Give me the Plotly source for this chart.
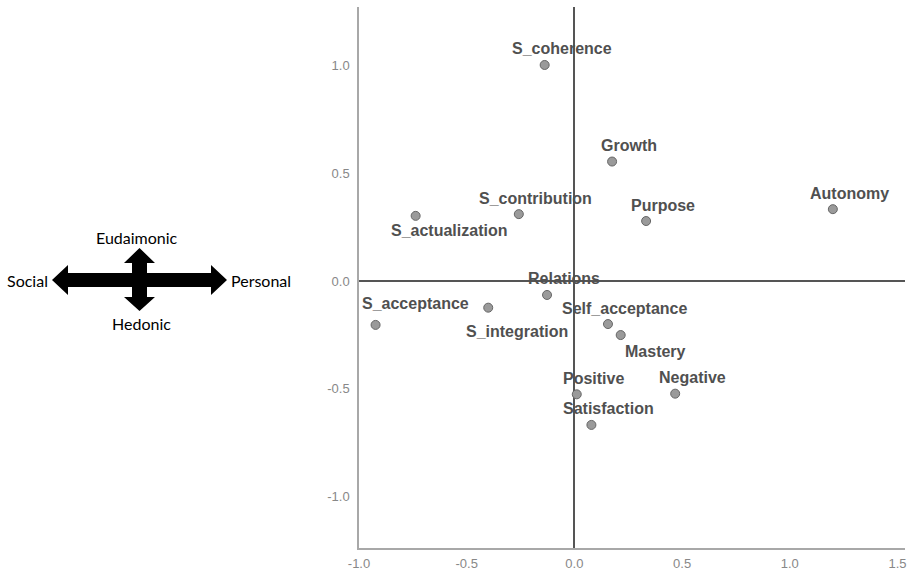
import plotly.graph_objects as go

# ---- data ----
names = ["S_coherence", "Growth", "Autonomy", "Purpose", "S_contribution", "S_actualization",
         "Relations", "S_integration", "S_acceptance", "Self_acceptance", "Mastery",
         "Positive", "Negative", "Satisfaction"]
dim1 = [-0.138, 0.175, 1.200, 0.333, -0.258, -0.737,
        -0.127, -0.400, -0.923, 0.156, 0.215,
        0.011, 0.468, 0.079]
dim2 = [1.002, 0.554, 0.333, 0.278, 0.310, 0.302,
        -0.065, -0.124, -0.204, -0.200, -0.251,
        -0.526, -0.523, -0.668]

x_tickvals = [-1.0, -0.5, 0.0, 0.5, 1.0, 1.5]
x_ticktext = ["-1.0", "-0.5", "0.0", "0.5", "1.0", "1.5"]
y_tickvals = [-1.0, -0.5, 0.0, 0.5, 1.0]
y_ticktext = ["-1.0", "-0.5", "0.0", "0.5", "1.0"]

legend_texts = {"up": "Eudaimonic", "down": "Hedonic", "left": "Social", "right": "Personal"}

# ---- label offsets (pixels, style) ----
default_off = (17, 16)
special_off = {"S_actualization": (33, -15), "S_acceptance": (40, 21),
               "S_integration": (29, -24), "Mastery": (35, -16)}

W, H = 914, 574
ML, MR, MT, MB = 359, 9, 7, 26
PW, PH = W - ML - MR, H - MT - MB


def px(xp, yp):
    return (xp - ML) / PW, (H - MB - yp) / PH


fig = go.Figure()
fig.add_trace(go.Scatter(
    x=dim1, y=dim2, mode="markers",
    marker=dict(size=9, color="#9a9a9a", line=dict(color="#666666", width=1)),
    hoverinfo="text", text=names, showlegend=False, cliponaxis=False,
))

annotations = []
for n, xv, yv in zip(names, dim1, dim2):
    dx, dy = special_off.get(n, default_off)
    annotations.append(dict(
        x=xv, y=yv, xref="x", yref="y", text=n, showarrow=False,
        xshift=dx, yshift=dy, xanchor="center", yanchor="middle",
        font=dict(family="Liberation Sans, Arial, sans-serif", size=16, color="#505050",
                  weight="bold"),
    ))

# cross-arrow legend graphic (pixel polygon -> paper coords)
poly_px = [(52, 280), (68, 265), (68, 273), (132, 273), (132, 263), (124, 263), (139.5, 248),
           (155, 263), (147, 263), (147, 273), (211, 273), (211, 265), (227, 280), (211, 295),
           (211, 287), (147, 287), (147, 297), (155, 297), (139.5, 311), (124, 297), (132, 297),
           (132, 287), (68, 287), (68, 295)]
pts = [px(a, b) for a, b in poly_px]
path = "M " + " L ".join(f"{a:.5f},{b:.5f}" for a, b in pts) + " Z"
shapes = [dict(type="path", xref="paper", yref="paper", path=path,
               fillcolor="black", line=dict(color="black", width=0))]

legend_pos = {"up": (137, 238), "down": (141, 323), "left": (27, 280), "right": (261, 280)}
for k, t in legend_texts.items():
    xp, yp = px(*legend_pos[k])
    annotations.append(dict(
        x=xp, y=yp, xref="paper", yref="paper", text=t, showarrow=False,
        xanchor="center", yanchor="middle",
        font=dict(family="Lato, Noto Sans, sans-serif", size=16, color="black", weight="normal"),
    ))

axis_common = dict(
    showgrid=False, zeroline=True, zerolinecolor="#555555", zerolinewidth=1.5,
    showline=True, linecolor="#a8a8a8", linewidth=1.5, ticks="",
    tickfont=dict(family="Liberation Sans, Arial, sans-serif", size=13, color="#888888"),
)

fig.update_layout(
    width=W, height=H, margin=dict(l=ML, r=MR, t=MT, b=MB, autoexpand=False),
    paper_bgcolor="white", plot_bgcolor="white",
    xaxis=dict(range=[-1.0, 1.535], tickvals=x_tickvals, ticktext=x_ticktext,
               ticklabelstandoff=3, **axis_common),
    yaxis=dict(range=[-1.239, 1.271], tickvals=y_tickvals, ticktext=y_ticktext,
               ticklabelstandoff=5, **axis_common),
    annotations=annotations, shapes=shapes,
)

fig.write_html("out.html", config={"displayModeBar": False},
               post_script="document.body.style.margin='0';")
